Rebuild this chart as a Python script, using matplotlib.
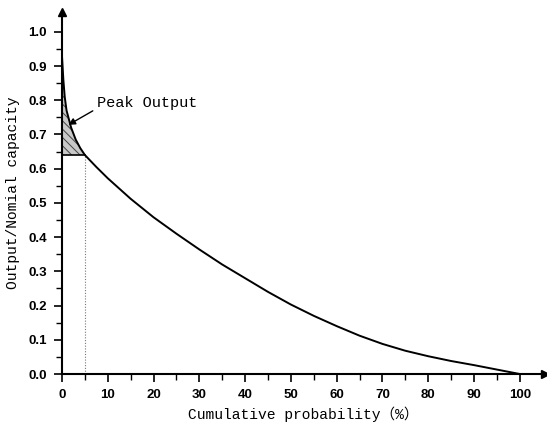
import matplotlib.pyplot as plt
import numpy as np

# duration curve
prob = [0, 0.3, 0.6, 1.0, 2.0, 3.0, 4.0, 5.0, 7.5, 10, 15, 20, 25, 30, 35, 40,
        45, 50, 55, 60, 65, 70, 75, 80, 85, 90, 95, 100]
output = [0.93, 0.86, 0.81, 0.77, 0.72, 0.685, 0.66, 0.64, 0.605, 0.572, 0.512,
          0.458, 0.410, 0.364, 0.320, 0.280, 0.240, 0.203, 0.170, 0.140, 0.112,
          0.088, 0.068, 0.052, 0.038, 0.026, 0.013, 0.0]
peak_x = 5.0
peak_y = 0.64

xticks = [0, 10, 20, 30, 40, 50, 60, 70, 80, 90, 100]
yticks = [0.0, 0.1, 0.2, 0.3, 0.4, 0.5, 0.6, 0.7, 0.8, 0.9, 1.0]

mono = ['Liberation Mono', 'Noto Sans CJK SC']

plt.rcParams['hatch.linewidth'] = 0.7
plt.rcParams['hatch.color'] = '#444444'

fig = plt.figure(figsize=(5.47, 4.23), dpi=100)
ax = fig.add_axes([0.1133, 0.1158, 0.883, 0.856])

x = np.array(prob)
y = np.array(output)

# hatched peak area
m = x <= peak_x
ax.fill_between(x[m], y[m], peak_y, facecolor='#c8c8c8', edgecolor='#444444',
                hatch='\\\\\\\\', linewidth=0)
ax.plot([0, peak_x], [peak_y, peak_y], color='black', lw=1.2)
ax.plot([peak_x, peak_x], [0, peak_y], color='#777777', lw=0.8, ls=(0, (1, 1.5)))

ax.plot(x, y, color='black', lw=1.4)

ax.annotate('Peak Output', xy=(1.4, 0.728), xytext=(7.6, 0.792),
            fontsize=11, family=mono, va='center', ha='left',
            arrowprops=dict(arrowstyle='-|>', color='black', lw=1.0,
                            mutation_scale=10, shrinkA=1, shrinkB=0,
                            relpos=(0, 0.1)))

ax.set_xlim(0, 105.5)
ax.set_ylim(0, 1.058)
ax.spines['top'].set_visible(False)
ax.spines['right'].set_visible(False)
ax.spines['left'].set_linewidth(1.5)
ax.spines['bottom'].set_linewidth(1.5)
ax.plot(1, 0, '>', color='black', ms=6, transform=ax.transAxes, clip_on=False)
ax.plot(0, 1, '^', color='black', ms=6, transform=ax.transAxes, clip_on=False)

ax.set_xticks(xticks)
ax.set_xticks(np.arange(5, 100, 10), minor=True)
ax.set_yticks(yticks)
ax.set_yticks(np.arange(0.05, 1.0, 0.1), minor=True)
ax.set_xticklabels([str(v) for v in xticks], fontsize=9.5, fontweight='bold',
                   family='Liberation Sans')
ax.set_yticklabels(['%.1f' % v for v in yticks], fontsize=9.5, fontweight='bold',
                   family='Liberation Sans')
ax.tick_params(which='major', length=6, width=1.2, direction='out', pad=5)
ax.tick_params(which='minor', length=4, width=1.0, direction='out')

ax.set_xlabel('Cumulative probability（%）', fontsize=10.5, family=mono, labelpad=4)
ax.set_ylabel('Output/Nomial capacity', fontsize=10.5, family=mono, labelpad=6)

fig.savefig('out.png', dpi=100)
